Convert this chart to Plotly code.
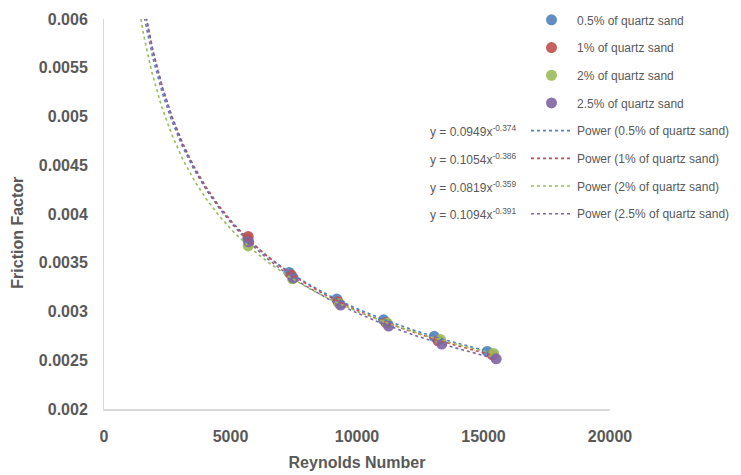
import numpy as np
import plotly.graph_objects as go

# Measured points: Reynolds number vs friction factor for each sand concentration
re_05 = [5680, 7320, 9200, 11050, 13050, 15150]
ff_05 = [0.003745, 0.003400, 0.003128, 0.002915, 0.002745, 0.002590]

re_1 = [5700, 7400, 9250, 11150, 13200, 15350]
ff_1 = [0.003770, 0.003375, 0.003100, 0.002885, 0.002700, 0.002555]

re_2 = [5700, 7450, 9300, 11200, 13300, 15400]
ff_2 = [0.003672, 0.003335, 0.003080, 0.002880, 0.002712, 0.002570]

re_25 = [5720, 7480, 9350, 11250, 13350, 15500]
ff_25 = [0.003714, 0.003344, 0.003066, 0.002851, 0.002666, 0.002515]

# Power trendline coefficients y = a * x^b
coef_a = [0.0949, 0.1054, 0.0819, 0.1094]
coef_b = [-0.374, -0.386, -0.359, -0.391]

series_names = ["0.5% of quartz sand", "1% of quartz sand",
                "2% of quartz sand", "2.5% of quartz sand"]
colors = ["#4F81BD", "#C0504D", "#9BBB59", "#8064A2"]

x_ticks = [0, 5000, 10000, 15000, 20000]
y_ticks = [0.002, 0.0025, 0.003, 0.0035, 0.004, 0.0045, 0.005, 0.0055, 0.006]

xs = [re_05, re_1, re_2, re_25]
ys = [ff_05, ff_1, ff_2, ff_25]

fig = go.Figure()

grp = 0
for name, c, x, y in zip(series_names, colors, xs, ys):
    fig.add_trace(go.Scatter(
        x=x, y=y, mode="markers", name=name,
        marker=dict(color=c, size=11, opacity=0.9),
        legendgroup=f"g{grp}", cliponaxis=False,
    ))
    grp += 1

for name, c, a, b, x in zip(series_names, colors, coef_a, coef_b, xs):
    xf = np.linspace(1300, max(x), 300)
    fig.add_trace(go.Scatter(
        x=xf, y=a * xf ** b, mode="lines", name=f"Power ({name})",
        line=dict(color=c, width=1.6, dash="dot"),
        legendgroup=f"g{grp}", hoverinfo="skip",
    ))
    grp += 1

gray = "#595959"
family = "Liberation Sans, Arial, sans-serif"
tick_font = dict(family=family, size=16, color=gray)
title_font = dict(family=family, size=16, color=gray)

# Trendline equations placed beside their legend entries
eq_rows = [0.712, 0.640, 0.568, 0.499]
for a, b, yy in zip(coef_a, coef_b, eq_rows):
    fig.add_annotation(
        x=0.818, y=yy, xref="paper", yref="paper",
        xanchor="right", yanchor="middle", showarrow=False,
        text=f"y = {a:.4f}x<sup>{b:.3f}</sup>",
        font=dict(family=family, size=12, color=gray),
    )

# Vertical axis title
fig.add_annotation(
    x=-0.170, y=0.452, xref="paper", yref="paper",
    xanchor="center", yanchor="middle", showarrow=False, textangle=-90,
    text="<b>Friction Factor</b>", font=title_font,
)

fig.update_layout(
    width=741, height=475,
    margin=dict(l=104, r=131, t=19, b=66, autoexpand=False),
    paper_bgcolor="white", plot_bgcolor="white",
    showlegend=True,
    legend=dict(
        x=0.834, y=1.035, xanchor="left", yanchor="top",
        traceorder="grouped", tracegroupgap=8.7, itemwidth=41,
        font=dict(family=family, size=12, color=gray),
        bgcolor="rgba(0,0,0,0)",
    ),
    xaxis=dict(
        range=[0, 20000], tickvals=x_ticks,
        ticktext=[f"<b>{v}</b>" for v in x_ticks],
        showgrid=False, zeroline=False, showline=True,
        linecolor="#D9D9D9", linewidth=2, ticks="",
        ticklabelstandoff=12, automargin=False,
        tickfont=tick_font,
        title=dict(text="<b>Reynolds Number</b>", font=title_font, standoff=13),
    ),
    yaxis=dict(
        range=[0.002, 0.006], tickvals=y_ticks,
        ticktext=[f"<b>{v:g}</b>" for v in y_ticks],
        showgrid=False, zeroline=False, showline=True,
        linecolor="#D9D9D9", linewidth=1, ticks="",
        ticklabelstandoff=12, automargin=False,
        tickfont=tick_font,
    ),
)

fig.write_html("out.html")
